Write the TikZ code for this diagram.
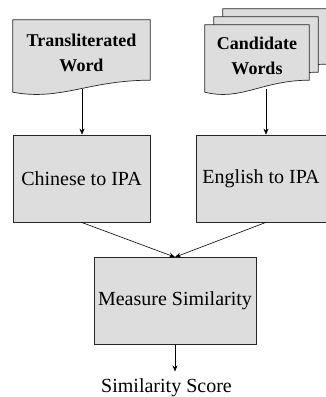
\documentclass[tikz,border=0pt]{standalone}
\usepackage{fontspec}
\setmainfont{Liberation Serif}[BoldFont={Liberation Serif Bold}]
\usetikzlibrary{arrows.meta,calc,backgrounds}
\definecolor{boxgray}{RGB}{221,221,221}
\newcommand{\docpath}[1]{(#1.north west) -- (#1.north east) -- ([yshift=6pt]#1.south east)
  .. controls ($(#1.south west)!0.55!(#1.south east)+(0,6pt)$) and ($(#1.south west)!0.35!(#1.south east)+(0,-15pt)$) .. ([yshift=-6pt]#1.south west) -- cycle}

\begin{document}
\begin{tikzpicture}[x=1pt,y=-1pt,
        every node/.style={font=\fontsize{20}{24}\selectfont},
        sheet/.style={minimum width=104pt,minimum height=61pt,inner sep=0pt,align=center,
            font=\bfseries\fontsize{18}{25}\selectfont},
        docfill/.style={draw=black!85,fill=boxgray,line width=0.7pt},
        proc/.style={draw=black!85,fill=boxgray,line width=0.7pt,minimum height=87pt,inner sep=0pt},
        arr/.style={-{Stealth[length=6pt,width=5pt]},line width=0.6pt}]
        \useasboundingbox (0,0) rectangle (326,397);
        \node[sheet,minimum width=137pt,minimum height=66pt] (tw) at (81.5,53) {Transliterated\\Word};
        \node[sheet] (cwx) at (275,39.5) {};
        \node[sheet] (cwm) at (266,47.5) {};
        \node[sheet] (cw)  at (257,55.5) {Candidate\\Words};
        \begin{scope}[on background layer]
            \draw[docfill] \docpath{cwx};
            \draw[docfill] \docpath{cwm};
            \draw[docfill] \docpath{cw};
            \draw[docfill] \docpath{tw};
        \end{scope}
        \node[proc,minimum width=137pt] (chn) at (81.5,178.5) {Chinese to IPA};
        \node[proc,minimum width=130pt] (eng) at (261,178.5) {English to IPA};
        \node[proc,minimum width=162pt] (msr) at (175,301) {Measure Similarity};
        \node[outer sep=3.5pt] (sco) at (166.5,387.4) {Similarity Score};
        \coordinate (twb) at (82,89);
        \coordinate (cwb) at (266,89);
        \draw[arr] (twb) -- (twb |- chn.north);
        \draw[arr] (cwb) -- (cwb |- eng.north);
        \draw[arr] (chn.south) -- (msr.north);
        \draw[arr] (cwb |- eng.south) -- (msr.north);
        \draw[arr] (msr.south) -- (msr.south |- sco.north);
\end{tikzpicture}
\end{document}
